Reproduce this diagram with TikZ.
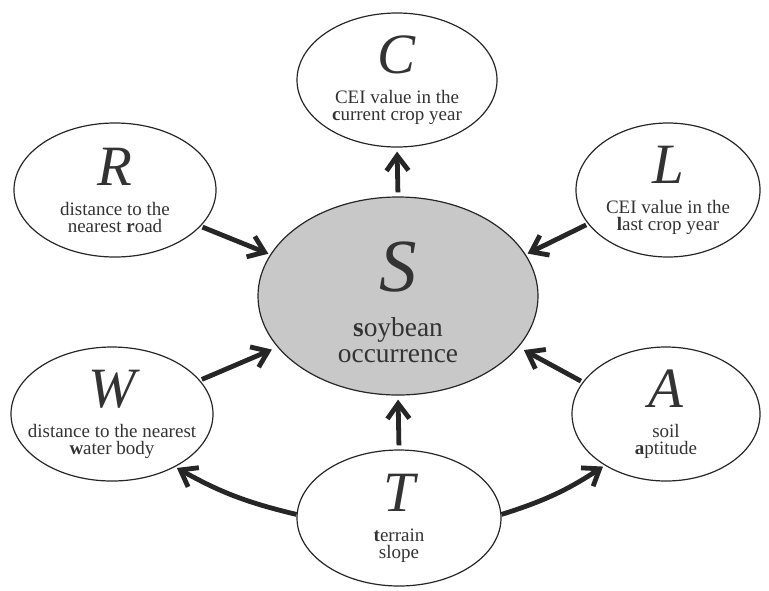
\documentclass[tikz,border=0pt]{standalone}
\usepackage{fontspec}
\setmainfont{Liberation Serif}
\usetikzlibrary{arrows.meta, shapes.geometric}

\definecolor{inkgray}{HTML}{333333}
\definecolor{hubfill}{HTML}{C8C8C8}

\tikzset{
  ell/.style={ellipse, draw=black!85, line width=0.6pt, inner sep=0pt},
  lbl/.style={align=center, text=inkgray, font=\fontsize{9.5}{8.5}\selectfont},
  arr/.style={-{Straight Barb[length=7.5pt,width=11pt]}, line width=2.4pt, black!85},
}
\newcommand{\bigvar}[2][28.5]{{\fontsize{#1}{#1}\selectfont\itshape #2}}

\begin{document}
\begin{tikzpicture}[x=0.5pt, y=-0.5pt]

  \useasboundingbox (0,0) rectangle (769,590);

  % --- Ellipses ---
  \node[ell, fill=hubfill, minimum width=140pt, minimum height=99pt] (S) at (398,296) {};
  \node[ell, minimum width=100pt, minimum height=67pt] (C) at (397,80) {};
  \node[ell, minimum width=101pt, minimum height=67pt] (R) at (115,190) {};
  \node[ell, minimum width=92pt, minimum height=67pt] (L) at (668,190) {};
  \node[ell, minimum width=101pt, minimum height=67pt] (W) at (112,414) {};
  \node[ell, minimum width=94pt, minimum height=67pt] (A) at (666,414) {};
  \node[ell, minimum width=102pt, minimum height=68pt] (T) at (399,518) {};

  % --- Texts ---
  \node[lbl, font=\fontsize{13.7}{13}\selectfont] (St) at ([yshift=-3pt]S.center)
    {\bigvar[37.5]{S}\\[9.5pt] \textbf{s}oybean\\ occurrence};
  \node[lbl] (Ct) at (C) {\bigvar{C}\\[6.5pt] CEI value in the\\ \textbf{c}urrent crop year};
  \node[lbl] (Rt) at (R) {\bigvar{R}\\[6.5pt] distance to the\\ nearest \textbf{r}oad};
  \node[lbl] (Lt) at (L) {\bigvar{L}\\[6.5pt] CEI value in the\\ \textbf{l}ast crop year};
  \node[lbl] (Wt) at (W) {\bigvar{W}\\[6.5pt] distance to the nearest\\ \textbf{w}ater body};
  \node[lbl] (At) at (A) {\bigvar{A}\\[6.5pt] soil\\ \textbf{a}ptitude};
  \node[lbl] (Tt) at (T) {\bigvar{T}\\[6.5pt] \textbf{t}errain\\ slope};

  % --- Arrows ---
  \draw[arr, shorten <=2pt, shorten >=2pt] (S.north) -- (C.south);
  \draw[arr, shorten <=1pt, shorten >=1pt] (R.-23) -- (S.162);
  \draw[arr, shorten <=1pt, shorten >=1pt] (L.203) -- (S.18);
  \draw[arr, shorten <=1pt, shorten >=3pt] (W.21) -- (S.203);
  \draw[arr, shorten <=1pt, shorten >=3pt] (A.159) -- (S.-23);
  \draw[arr, shorten <=2pt, shorten >=2pt] (T.north) -- (S.south);
  \draw[arr, shorten >=1pt] (T.178) to[bend left=8] (W.-40);
  \draw[arr, shorten >=1pt] (T.2) to[bend right=8] (A.220);

\end{tikzpicture}
\end{document}
